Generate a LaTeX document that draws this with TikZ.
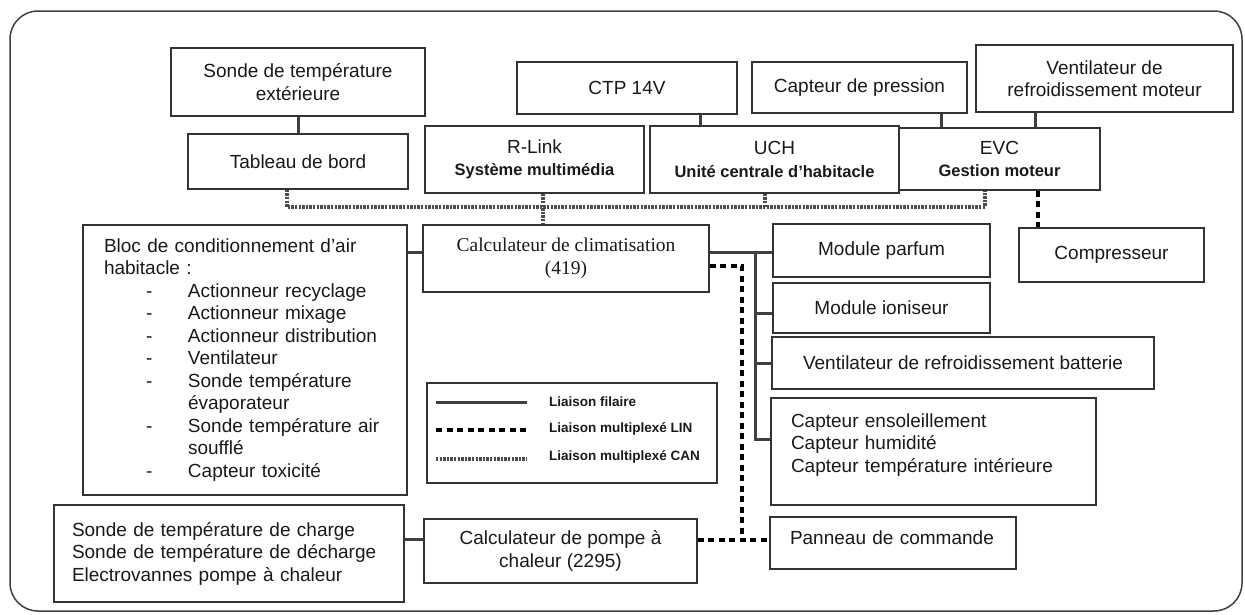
\documentclass[tikz,border=0pt]{standalone}
\usepackage{fontspec}
\setmainfont{Liberation Sans}
\newfontfamily\calcfont{Liberation Serif}

\newcommand{\soustitre}[1]{{\fontsize{16.5pt}{20pt}\selectfont\bfseries #1}}
\newcommand{\tiret}[1]{\hspace*{42pt}\makebox[42pt][l]{-}#1}
\newcommand{\suite}[1]{\hspace*{84pt}#1}

\tikzset{
	boite/.style={draw=black!80, line width=1.5pt, inner sep=0pt, align=center, text=black!90, font=\fontsize{19pt}{22.5pt}\selectfont},
	filaire/.style={draw=black!75, line width=3pt},
	lin/.style={draw=black, line width=3.4pt, dash pattern=on 6pt off 4.5pt},
	can/.style={draw=black!70, line width=3.3pt, dash pattern=on 2.4pt off 1.2pt},
	legende/.style={anchor=west, inner sep=0pt, text=black!90, font=\fontsize{13.5pt}{16pt}\selectfont\bfseries},
}

\begin{document}
\begin{tikzpicture}[x=1pt,y=-1pt]
		\useasboundingbox (0,0) rectangle (1245,614);
		\draw [black!75, line width=1.5pt, rounded corners=28pt] (10,11) rectangle (1242,611);
		\node[boite, minimum width=254pt, minimum height=68pt] (v1) at (298,82) {Sonde de température\\extérieure};
		\node[boite, minimum width=220pt, minimum height=55pt] (v2) at (298,161.5) {Tableau de bord};
		\node[boite, minimum width=220pt, minimum height=52pt] (v3) at (627,88) {CTP 14V};
		\node[boite, minimum width=215pt, minimum height=51pt] (v4) at (859.5,87.5) {Capteur de pression};
		\node[boite, minimum width=257pt, minimum height=67pt] (v5) at (1104.5,78.5) {Ventilateur de\\refroidissement moteur};
		\node[boite, minimum width=219pt, minimum height=67pt] (v6) at (534.5,159.5) {R-Link\\\soustitre{Système multimédia}};
		\node[boite, minimum width=249pt, minimum height=67pt] (v7) at (774.5,159.5) {UCH\\\soustitre{Unité centrale d'habitacle}};
		\node[boite, minimum width=201pt, minimum height=62pt] (v8) at (999.5,159) {EVC\\\soustitre{Gestion moteur}};
		\node[boite, align=left, inner xsep=21pt, text width=282pt, minimum height=270pt] (v9) at (245,360) {Bloc de conditionnement d'air\\habitacle~:\\\tiret{Actionneur recyclage}\\\tiret{Actionneur mixage}\\\tiret{Actionneur distribution}\\\tiret{Ventilateur}\\\tiret{Sonde température}\\\suite{évaporateur}\\\tiret{Sonde température air}\\\suite{soufflé}\\\tiret{Capteur toxicité}};
		\node[boite, minimum width=286pt, minimum height=67pt, font=\calcfont\fontsize{19.5pt}{23pt}\selectfont] (v10) at (566,258.5) {Calculateur de climatisation\\(419)};
		\node[boite, minimum width=185pt, minimum height=54pt] (v11) at (1111.5,255) {Compresseur};
		\node[boite, minimum width=217pt, minimum height=53pt] (v12) at (881.5,250.5) {Module parfum};
		\node[boite, minimum width=217pt, minimum height=50pt] (v13) at (881.5,308) {Module ioniseur};
		\node[boite, minimum width=382pt, minimum height=52pt] (v14) at (963,363) {Ventilateur de refroidissement batterie};
		\node[boite, align=left, inner xsep=20pt, text width=285pt, minimum height=107pt, text depth=62pt] (v15) at (933.5,451.5) {Capteur ensoleillement\\Capteur humidité\\Capteur température intérieure};
		\node[boite, minimum width=290pt, minimum height=100pt] (v16) at (572,433) {};
		\node[boite, align=left, inner xsep=18pt, text width=314pt, minimum height=97pt] (v17) at (229,553.5) {Sonde de température de charge\\Sonde de température de décharge\\Electrovannes pompe à chaleur};
		\node[boite, minimum width=273pt, minimum height=64pt] (v18) at (560.5,551) {Calculateur de pompe à\\chaleur (2295)};
		\node[boite, align=left, inner xsep=20pt, text width=206pt, minimum height=52pt, text depth=11pt] (v19) at (893,543) {Panneau de commande};
		\coordinate (c1) at (0,207);
		\coordinate (c2) at (755,439);
		\coordinate (c3) at (742,540);
		\draw [filaire] (v1) edge (v2);
		\draw [filaire] ([xshift=73pt]v3.south) -- ([xshift=73pt]v3.south |- v7.north);
		\draw [filaire] ([xshift=81.5pt]v4.south) -- ([xshift=81.5pt]v4.south |- v8.north);
		\draw [filaire] ([xshift=-69.5pt]v5.south) -- ([xshift=-69.5pt]v5.south |- v8.north);
		\draw [can] ([xshift=-11pt]v2.south) |- ([xshift=-14.5pt]v8.south |- c1) -- ([xshift=-14.5pt]v8.south);
		\draw [can] ([xshift=8.5pt]v6.south) -- ([xshift=8.5pt]v6.south |- v10.north);
		\draw [can] ([xshift=-9.5pt]v7.south) -- ([xshift=-9.5pt]v7.south |- c1);
		\draw [lin] ([xshift=38.5pt]v8.south) -- ([xshift=38.5pt]v8.south |- v11.north);
		\draw [filaire] ([yshift=6.5pt]v10.west) -- ([yshift=6.5pt]v10.west -| v9.east);
		\draw [filaire] ([yshift=6.5pt]v10.east) -- ([yshift=6.5pt]v10.east -| v12.west);
		\draw [filaire] ([yshift=6.5pt]v10.east -| c2) -- (c2) -- (c2 -| v15.west);
		\draw [filaire] ([yshift=-5pt]v13.west -| c2) -- ([yshift=-5pt]v13.west);
		\draw [filaire] (v14.west -| c2) -- (v14.west);
		\draw [lin] ([yshift=-7.5pt]v10.east) -| (c3);
		\draw [lin] (c3 -| v18.east) -- (c3 -| v19.west);
		\draw [filaire] ([yshift=12pt]v18.west) -- ([yshift=12pt]v18.west -| v17.east);
		\coordinate (k1) at (436,402);
		\coordinate (k2) at (436,430);
		\coordinate (k3) at (436,459);
		\draw [filaire] (k1) -- ++(91,0);
		\draw [lin] (k2) -- ++(91,0);
		\draw [can] (k3) -- ++(91,0);
		\node[legende] (t1) at (549,402) {Liaison filaire};
		\node[legende] (t2) at (549,429) {Liaison multiplexé LIN};
		\node[legende] (t3) at (549,457) {Liaison multiplexé CAN};
		\end{tikzpicture}
\end{document}
